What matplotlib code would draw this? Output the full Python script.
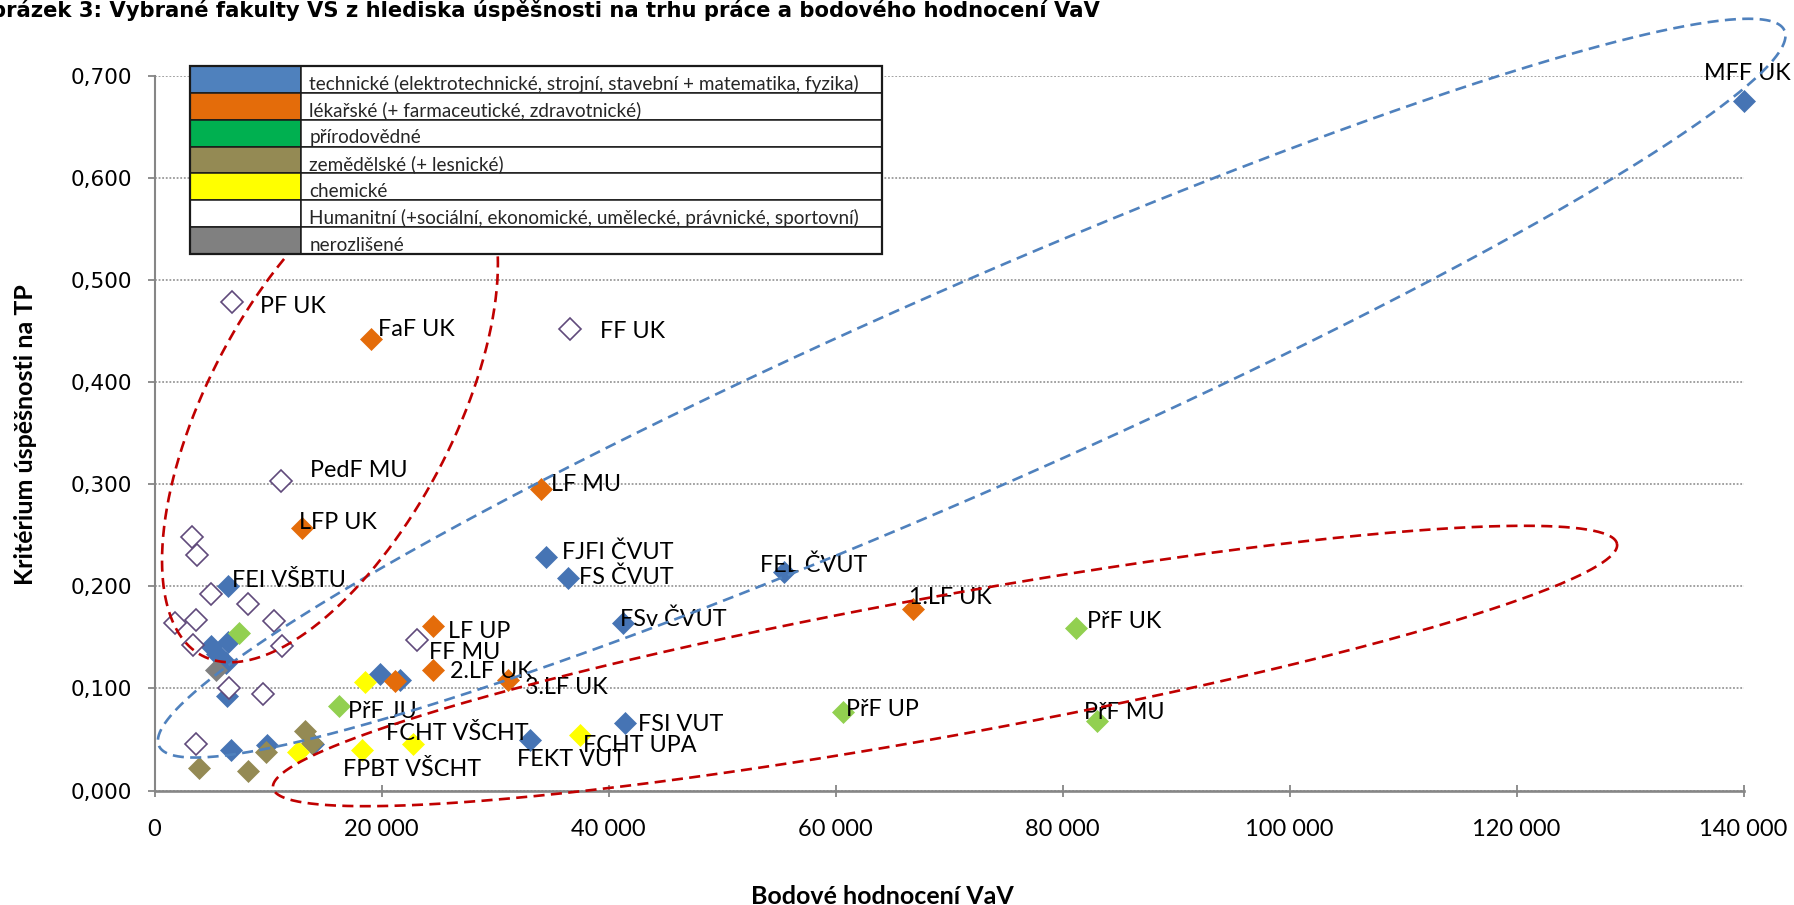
import numpy as np
import matplotlib
matplotlib.use("Agg")
import matplotlib.pyplot as plt
from matplotlib.lines import Line2D
from matplotlib.patches import Rectangle
from matplotlib.transforms import IdentityTransform

W, H, DPI = 1794, 905, 100

TITLE = "Obrázek 3: Vybrané fakulty VS z hlediska úspěšnosti na trhu práce a bodového hodnocení VaV"
X_LABEL = "Bodové hodnocení VaV"
Y_LABEL = "Kritérium úspěšnosti na TP"

X_TICKS = [0, 20000, 40000, 60000, 80000, 100000, 120000, 140000]
X_TICK_LABELS = ["0", "20 000", "40 000", "60 000", "80 000", "100 000", "120 000", "140 000"]
Y_TICKS = [0.0, 0.1, 0.2, 0.3, 0.4, 0.5, 0.6, 0.7]
Y_TICK_LABELS = ["0,000", "0,100", "0,200", "0,300", "0,400", "0,500", "0,600", "0,700"]

# technické
TECH_X = [140000, 55500, 34500, 36400, 41300, 41450, 33100, 6500,
          4950, 6500, 5480, 6300, 6360, 6740, 9940, 14000, 19900, 21630]
TECH_Y = [0.675, 0.214, 0.229, 0.208, 0.164, 0.066, 0.050, 0.200,
          0.142, 0.145, 0.134, 0.125, 0.093, 0.040, 0.045, 0.046, 0.114, 0.108]
TECH_LABELS = ["MFF UK", "FEL ČVUT", "FJFI ČVUT", "FS ČVUT", "FSv ČVUT", "FSI VUT",
               "FEKT VUT", "FEI VŠBTU"] + [""] * 10

# lékařské
MED_X = [19050, 34050, 13020, 24560, 24500, 31170, 66850, 21190]
MED_Y = [0.442, 0.295, 0.257, 0.161, 0.118, 0.108, 0.178, 0.107]
MED_LABELS = ["FaF UK", "LF MU", "LFP UK", "LF UP", "2.LF UK", "3.LF UK", "1.LF UK", ""]

# přírodovědné
NAT_X = [81150, 60630, 83000, 16280, 7440]
NAT_Y = [0.159, 0.077, 0.068, 0.083, 0.154]
NAT_LABELS = ["PřF UK", "PřF UP", "PřF MU", "PřF JU", ""]

# zemědělské
AGR_X = [3920, 8270, 9820, 13260, 13850]
AGR_Y = [0.022, 0.019, 0.038, 0.058, 0.047]

# chemické
CHEM_X = [18250, 22750, 37490, 18550, 12670]
CHEM_Y = [0.040, 0.046, 0.054, 0.106, 0.038]
CHEM_LABELS = ["FPBT VŠCHT", "FCHT VŠCHT", "FCHT UPA", "", ""]

# humanitní
HUM_X = [6850, 36580, 11120, 23100, 3280, 3720, 4950, 8270,
         1810, 3630, 10530, 3360, 11200, 6590, 9530, 3630]
HUM_Y = [0.478, 0.452, 0.303, 0.147, 0.248, 0.231, 0.192, 0.183,
         0.164, 0.167, 0.166, 0.143, 0.142, 0.100, 0.095, 0.046]
HUM_LABELS = ["PF UK", "FF UK", "PedF MU", "FF MU"] + [""] * 12

# nerozlišené
OTHER_X = [5420]
OTHER_Y = [0.118]

LEGEND_LABELS = [
    "technické (elektrotechnické, strojní, stavební + matematika, fyzika)",
    "lékařské (+ farmaceutické, zdravotnické)",
    "přírodovědné",
    "zemědělské (+ lesnické)",
    "chemické",
    "Humanitní (+sociální, ekonomické, umělecké, právnické, sportovní)",
    "nerozlišené",
]
LEGEND_COLORS = ["#4F81BD", "#E46C0A", "#00B050", "#948A54", "#FFFF00", "#FFFFFF", "#808080"]

# label placement: (dx, dy) in pixels from the marker, text left edge / cap centre, dy downwards
LABEL_OFFSETS = {
    "MFF UK": (-39, -29), "FEL ČVUT": (-24, -8), "FJFI ČVUT": (16, -6),
    "FS ČVUT": (11, -2), "FSv ČVUT": (-3, -5), "FSI VUT": (13, 0),
    "FEKT VUT": (-13, 18), "FEI VŠBTU": (4, -8), "FaF UK": (7, -11),
    "LF MU": (10, -7), "LFP UK": (-3, -7), "LF UP": (15, 4),
    "2.LF UK": (17, 0), "3.LF UK": (17, 5), "1.LF UK": (-4, -13),
    "PřF UK": (11, -8), "PřF UP": (3, -4), "PřF MU": (-13, -10),
    "PřF JU": (9, 4), "FPBT VŠCHT": (-19, 18), "FCHT VŠCHT": (-27, -12),
    "FCHT UPA": (3, 8), "PF UK": (28, 2), "FF UK": (30, 1),
    "PedF MU": (29, -12), "FF MU": (12, 10),
}

# highlight ellipses: centre in data units, half-axes in pixels, angle in degrees
RED = "#C00000"
BLUE_LINE = "#4F81BD"
ELLIPSES = [
    ((72000, 0.394), 888, 101, 23.75, BLUE_LINE),
    ((15460, 0.3705), 275, 123, 62.3, RED),
    ((69650, 0.122), 683, 70, 10.3, RED),
]

LABEL_FONT = ["Lato", "DejaVu Sans"]


def px(x, size):
    return x / size


def draw_ellipse(ax, center, a, b, angle, color):
    x0, y0 = ax.transData.transform(center)
    t = np.linspace(0, 2 * np.pi, 600)
    th = np.deg2rad(angle)
    ex = x0 + a * np.cos(t) * np.cos(th) - b * np.sin(t) * np.sin(th)
    ey = y0 + a * np.cos(t) * np.sin(th) + b * np.sin(t) * np.cos(th)
    line = Line2D(ex, ey, transform=IdentityTransform(), color=color, lw=1.9,
                  ls=(0, (4.2, 2.4)), clip_on=False, zorder=8)
    ax.add_artist(line)


def main() -> None:
    fig = plt.figure(figsize=(W / DPI, H / DPI), dpi=DPI)
    fig.patch.set_facecolor("white")

    left, right = 154.5, 1743.5
    top, bottom = 75.6, 790.6
    ax = fig.add_axes([px(left, W), 1 - px(bottom, H), px(right - left, W), px(bottom - top, H)])
    ax.set_xlim(0, 140000)
    ax.set_ylim(0, 0.7)

    for s in ("top", "right"):
        ax.spines[s].set_visible(False)
    ax.spines["left"].set_color("#868686")
    ax.spines["left"].set_linewidth(1.5)
    ax.spines["bottom"].set_color("#868686")
    ax.spines["bottom"].set_linewidth(1.9)

    ax.set_yticks(Y_TICKS)
    ax.set_yticklabels(Y_TICK_LABELS, family="DejaVu Sans", fontsize=15.5)
    ax.set_xticks(X_TICKS)
    ax.set_xticklabels(X_TICK_LABELS, family=LABEL_FONT, fontsize=17)
    ax.tick_params(axis="y", direction="out", length=5, width=1.3, color="#868686", pad=11)
    ax.tick_params(axis="x", direction="inout", length=9, width=1.3, color="#868686", pad=16)
    ax.yaxis.grid(True, color="#9a9a9a", lw=1.3, ls=(0, (1, 1)))
    ax.set_axisbelow(True)

    groups = [
        (TECH_X, TECH_Y, TECH_LABELS, "#4674B4", "#4674B4", 0.5),
        (MED_X, MED_Y, MED_LABELS, "#E46C0A", "#E46C0A", 0.5),
        (AGR_X, AGR_Y, [""] * len(AGR_X), "#948A54", "#948A54", 0.5),
        (CHEM_X, CHEM_Y, CHEM_LABELS, "#FFFF00", "#FFFF00", 0.5),
        (NAT_X, NAT_Y, NAT_LABELS, "#92D050", "#92D050", 0.5),
        (OTHER_X, OTHER_Y, [""] * len(OTHER_X), "#7F7F7F", "#7F7F7F", 0.5),
        (HUM_X, HUM_Y, HUM_LABELS, "white", "#604A7B", 1.2),
    ]
    for xs, ys, labels, face, edge, mew in groups:
        ax.plot(xs, ys, ls="none", marker="D", ms=11, mfc=face, mec=edge, mew=mew,
                clip_on=False, zorder=3)
        for x, y, lab in zip(xs, ys, labels):
            if not lab:
                continue
            dx, dy = LABEL_OFFSETS[lab]
            ax.annotate(lab, (x, y), xytext=(dx, -(dy + 8.3)), textcoords="offset pixels",
                        ha="left", va="baseline", family=LABEL_FONT, fontsize=16.8,
                        color="black", annotation_clip=False, zorder=5)

    for center, a, b, angle, color in ELLIPSES:
        draw_ellipse(ax, center, a, b, angle, color)

    # axis titles
    fig.text(px(882, W), 1 - px(896, H), X_LABEL, ha="center", va="center",
             family=LABEL_FONT, fontweight="bold", fontsize=18)
    fig.text(px(26, W), 1 - px(435, H), Y_LABEL, ha="center", va="center", rotation=90,
             family=LABEL_FONT, fontweight="bold", fontsize=18)

    # figure title, cut at the left edge
    fig.text(px(-27, W), 1 - px(17, H), TITLE, ha="left", va="baseline",
             family="DejaVu Sans", fontweight="bold", fontsize=15.2)

    # legend table
    lx0, lx1, ly0, ly1 = 190, 882, 66, 254
    lax = fig.add_axes([px(lx0, W), 1 - px(ly1, H), px(lx1 - lx0, W), px(ly1 - ly0, H)], zorder=10)
    lax.set_xlim(0, 1)
    lax.set_ylim(len(LEGEND_LABELS), 0)
    lax.axis("off")
    col = (301 - lx0) / (lx1 - lx0)
    for i, (lab, c) in enumerate(zip(LEGEND_LABELS, LEGEND_COLORS)):
        lax.add_patch(Rectangle((0, i), col, 1, facecolor=c, edgecolor="#1a1a1a", lw=1.1))
        lax.add_patch(Rectangle((col, i), 1 - col, 1, facecolor="white", edgecolor="#1a1a1a", lw=1.1))
        lax.text(col + 0.012, i + 0.88, lab, ha="left", va="baseline", family=LABEL_FONT,
                 fontsize=13.6, color="#262626")
    lax.add_patch(Rectangle((0, 0), 1, len(LEGEND_LABELS), facecolor="none",
                            edgecolor="#1a1a1a", lw=1.6, clip_on=False))

    fig.savefig("out.png", dpi=DPI)
    plt.close(fig)


if __name__ == "__main__":
    main()
